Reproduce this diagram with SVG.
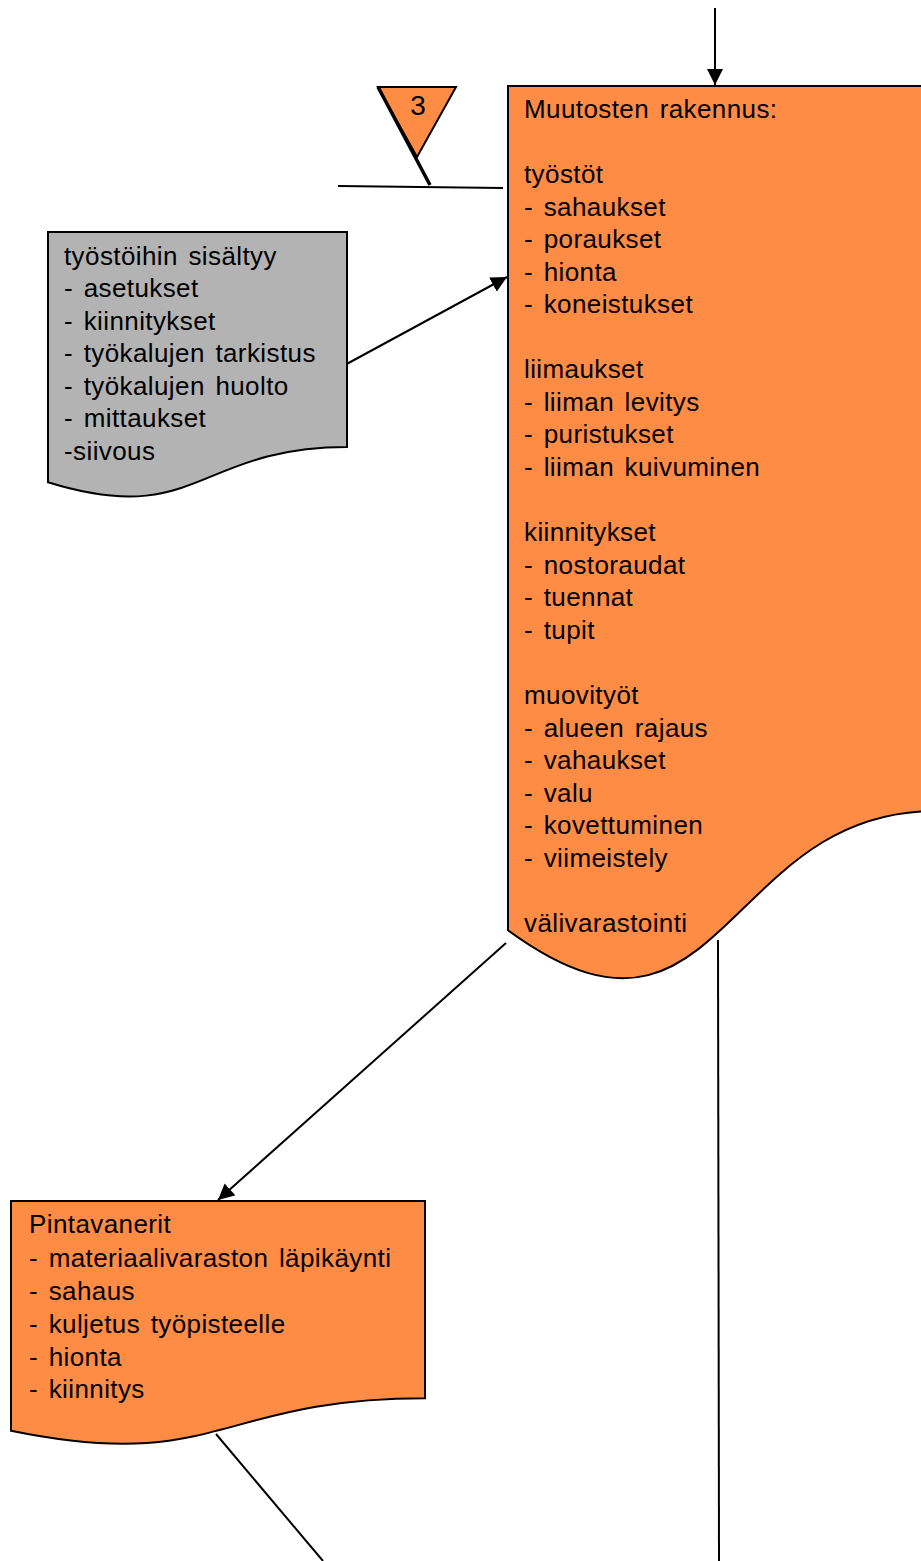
<svg xmlns="http://www.w3.org/2000/svg" width="921" height="1561" viewBox="0 0 921 1561">
<defs>
<style>
.t{font-family:"Liberation Sans",Arial,sans-serif;font-size:26px;fill:#000;letter-spacing:0.4px;word-spacing:3px}
.or{fill:#FF8C44;stroke:#000;stroke-width:2}
.gr{fill:#B3B3B3;stroke:#000;stroke-width:2}
.ln{stroke:#000;stroke-width:2;fill:none}
</style>
<marker id="ah" viewBox="0 0 10 10" refX="10" refY="5" markerWidth="8" markerHeight="8" markerUnits="strokeWidth" orient="auto">
<path d="M0,0 L10,5 L0,10 Z" fill="#000"/>
</marker>
</defs>
<rect width="921" height="1561" fill="#fff"/>
<g id="connectors">
<line class="ln" x1="715" y1="8" x2="715" y2="85" marker-end="url(#ah)"/>
<line class="ln" x1="343" y1="366" x2="507" y2="277" marker-end="url(#ah)"/>
<line class="ln" x1="506" y1="943" x2="218" y2="1200" marker-end="url(#ah)"/>
<line class="ln" x1="216" y1="1434" x2="323" y2="1561"/>
<line class="ln" x1="718" y1="940" x2="719" y2="1561"/>
<line class="ln" x1="338" y1="186" x2="503" y2="188"/>
</g>
<g id="marker3">
<polygon points="378,87 456,87 417,157" fill="#FF8C44" stroke="#000" stroke-width="2"/>
<line x1="378" y1="87" x2="430" y2="185" stroke="#000" stroke-width="3.5"/>
<text class="t" x="418" y="115" text-anchor="middle" style="letter-spacing:0;font-size:28px">3</text>
</g>
<g id="muutosten">
<path class="or" d="M508,86 H935 V811 C721.5,811 721.5,1086.7 508,930.3 Z"/>
<text class="t" x="524">
<tspan x="524" y="118">Muutosten rakennus:</tspan>
<tspan x="524" y="183">työstöt</tspan>
<tspan x="524" y="216">- sahaukset</tspan>
<tspan x="524" y="248">- poraukset</tspan>
<tspan x="524" y="281">- hionta</tspan>
<tspan x="524" y="313">- koneistukset</tspan>
<tspan x="524" y="378">liimaukset</tspan>
<tspan x="524" y="411">- liiman levitys</tspan>
<tspan x="524" y="443">- puristukset</tspan>
<tspan x="524" y="476">- liiman kuivuminen</tspan>
<tspan x="524" y="541">kiinnitykset</tspan>
<tspan x="524" y="574">- nostoraudat</tspan>
<tspan x="524" y="606">- tuennat</tspan>
<tspan x="524" y="639">- tupit</tspan>
<tspan x="524" y="704">muovityöt</tspan>
<tspan x="524" y="737">- alueen rajaus</tspan>
<tspan x="524" y="769">- vahaukset</tspan>
<tspan x="524" y="802">- valu</tspan>
<tspan x="524" y="834">- kovettuminen</tspan>
<tspan x="524" y="867">- viimeistely</tspan>
<tspan x="524" y="932">välivarastointi</tspan>
</text>
</g>
<g id="tyostoihin">
<path class="gr" d="M48,232 H347 V447 C197.5,447 197.5,528.7 48,482.3 Z"/>
<text class="t">
<tspan x="64" y="265">työstöihin sisältyy</tspan>
<tspan x="64" y="297">- asetukset</tspan>
<tspan x="64" y="330">- kiinnitykset</tspan>
<tspan x="64" y="362">- työkalujen tarkistus</tspan>
<tspan x="64" y="395">- työkalujen huolto</tspan>
<tspan x="64" y="427">- mittaukset</tspan>
<tspan x="64" y="460">-siivous</tspan>
</text>
</g>
<g id="pintavanerit">
<path class="or" d="M11,1201 H425 V1398.3 C218,1398.3 218,1473.3 11,1430.8 Z"/>
<text class="t">
<tspan x="29" y="1233">Pintavanerit</tspan>
<tspan x="29" y="1267">- materiaalivaraston läpikäynti</tspan>
<tspan x="29" y="1300">- sahaus</tspan>
<tspan x="29" y="1333">- kuljetus työpisteelle</tspan>
<tspan x="29" y="1366">- hionta</tspan>
<tspan x="29" y="1398">- kiinnitys</tspan>
</text>
</g>
</svg>
